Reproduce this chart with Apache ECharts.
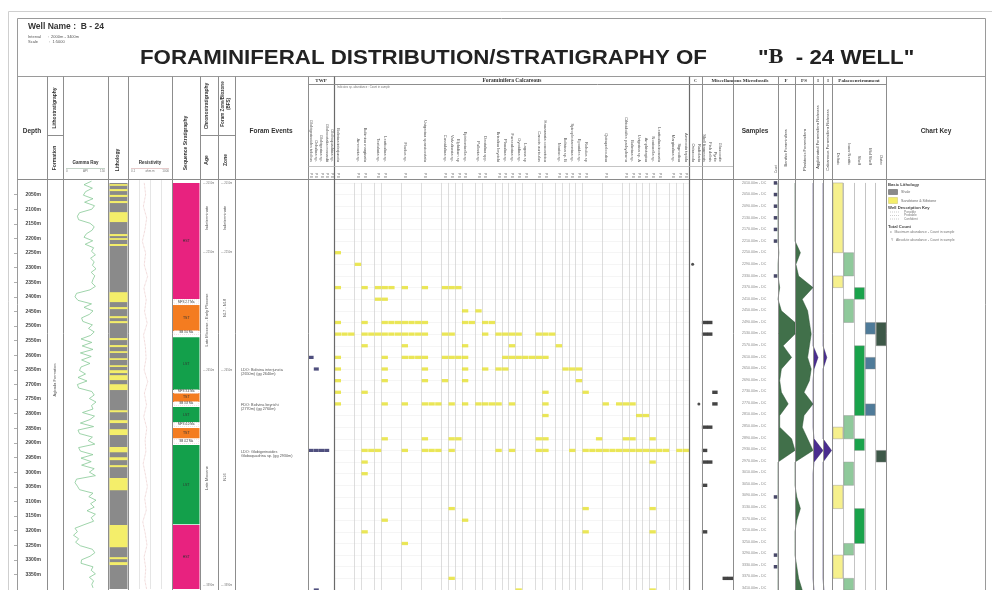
<!DOCTYPE html>
<html>
<head>
<meta charset="utf-8">
<title>Foraminiferal Distribution / Stratigraphy of B-24 Well</title>
<script src="https://cdn.jsdelivr.net/npm/echarts@6/dist/echarts.min.js"></script>
<style>
html,body{margin:0;padding:0;background:#fff;}
#chart{width:992px;height:590px;}
</style>
</head>
<body>
<div id="chart"></div>
<script>
// ================= DATA =================
const depthRange = [2000, 3400];
const depthTickStep = 50;

// Gamma ray (API)
const grDepth = [2004,2016,2028,2040,2052,2064,2076,2088,2100,2112,2124,2136,2148,2160,2172,2184,2196,2208,2220,2232,
  2244,2256,2268,2280,2292,2304,2316,2328,2340,2352,2364,2376,2388,2400,2412,2424,2436,2448,2460,2472,
  2484,2496,2508,2520,2532,2544,2556,2568,2580,2592,2604,2616,2628,2640,2652,2664,2676,2688,2700,2712,
  2724,2736,2748,2760,2772,2784,2796,2808,2820,2832,2844,2856,2868,2880,2892,2904,2916,2928,2940,2952,
  2964,2976,2988,3000,3012,3024,3036,3048,3060,3072,3084,3096,3108,3120,3132,3144,3156,3168,3180,3192,
  3204,3216,3228,3240,3252,3264,3276,3288,3300,3312,3324,3336,3348,3360,3372,3384,3396];
const grValue = [95,70,98,75,68,100,72,105,96,55,
  48,52,90,104,97,78,70,99,74,102,
  95,108,92,104,98,110,94,106,100,96,
  108,90,45,40,50,95,70,100,88,62,
  66,98,85,104,92,60,96,64,100,58,
  94,62,90,60,55,75,50,80,48,52,
  96,104,88,110,95,100,65,105,90,58,
  102,50,55,98,84,106,52,58,100,60,
  94,62,104,88,108,45,40,48,55,100,
  86,110,92,104,80,108,94,102,70,40,
  48,35,52,42,58,98,106,90,62,60,
  100,94,108,88,102,96,100];

// Resistivity (ohm.m)
const resDepth = [2010,2050,2090,2130,2170,2210,2250,2290,2330,2370,2410,2450,2490,2530,2570,2610,2650,2690,
  2730,2770,2810,2850,2890,2930,2970,3010,3050,3090,3130,3170,3210,3250,3290,3330,3370,3400];
const resValue = [3,4,2.5,5,3.5,2,4,3,6,2.8,4.5,3.2,5.5,2.6,3.8,4.4,2.9,6.2,3.1,4.8,2.7,5.1,3.6,4.2,2.4,3.9,5.8,3.3,4.6,2.2,3.7,5.3,2.9,4.1,3.4,4.9];

// Lithology intervals (m)
const lithTop    = [2010,2014,2031,2051,2072,2110,2185,2199,2219,2384,2435,2466,2483,2541,2565,2586,2610,2634,2651,2668,2699,2788,2822,2853,2914,2949,2976,3020,3181,3291,3308];
const lithBottom = [3400,2020,2038,2058,2079,2144,2192,2205,2226,2418,2442,2473,2490,2548,2572,2592,2616,2640,2661,2685,2719,2795,2832,2873,2932,2959,2983,3062,3257,3298,3318];
const lithType   = ['Shale','Sandstone','Sandstone','Sandstone','Sandstone','Sandstone','Sandstone','Sandstone','Sandstone','Sandstone','Sandstone','Sandstone','Sandstone','Sandstone','Sandstone','Sandstone','Sandstone','Sandstone','Sandstone','Sandstone','Sandstone','Sandstone','Sandstone','Sandstone','Sandstone','Sandstone','Sandstone','Sandstone','Sandstone','Sandstone','Sandstone'];

// Sequence stratigraphy
const seqTop    = [2010,2428,2538,2729,2777,2849,2907,3181];
const seqBottom = [2407,2517,2719,2760,2829,2884,3178,3400];
const seqType   = ['HST','TST','LST','TST','LST','TST','LST','HST'];
const seqMarkDepth = [2417,2522,2724,2765,2837,2895];
const seqMarkText  = ['MFS 2.7 Ma','SB 3.0 Ma','MFS 3.4 Ma','SB 3.8 Ma','MFS 4.0 Ma','SB 4.2 Ma'];

// Samples
const sampleDepths = [2010,2050,2090,2130,2170,2210,2250,2290,2330,2370,2410,2450,2490,2530,2570,2610,2650,2690,
  2730,2770,2810,2850,2890,2930,2970,3010,3050,3090,3130,3170,3210,3250,3290,3330,3370,3410];
const markerRows = [0,1,2,3,4,5,8,27,32,33];

// TWP (planktonic) species
const twpNames = ['Globigerinoides trilobus','Orbulina sp.','Globigerina sp.','Globorotalia menardii','Globoquadrina sp.'];
const twpHits = [[15,[0]],[16,[1]],[23,[0,1,2,3]],[35,[1]]];

// Calcareous foraminifera species (53 columns, some unlabeled)
const speciesNames = ['Bolivina interjuncta','','','Ammonia sp.','Bulimina marginata','','Textularia sp.','Lenticulina sp.','','',
  'Florilus sp.','','','Uvigerina sparsicostata','','','Cassidulina sp.','Valvulineria sp.','Elphidium sp','Epistominella sp.',
  '','Pullenia sp.','Dentalina spp.','','Brizalina beyrichi','Planulina sp.','Fursenkoina sp.','Gyroidina sp.','Lagena sp','',
  'Cancris auriculus','Hanzawaia concentrica','','Nonion sp.','Bolivina sp. B','Spiroplectammina sp.','Eponides sp.','Robulus sp','','',
  'Quinqueloculina','','','Cibicidoides pachyderma','Bulimina sp.','Uvigerina sp. A','Amphistegina','Nonionella sp.','Lenticulina inornata','',
  'Marginulina sp.','Sigmoilina','Ammonia tepida'];
const foramHits = [
  [6,[0]],[7,[3]],
  [9,[0,4,6,7,8,10,13,16,17,18]],
  [10,[6,7]],
  [11,[19,21]],
  [12,[0,4,7,8,9,10,11,12,13,19,20,22,23]],
  [13,[0,1,2,4,5,6,7,8,9,10,11,12,13,16,17,22,24,25,26,27,30,31,32]],
  [14,[4,10,19,26,33]],
  [15,[0,7,10,11,12,13,16,17,18,19,25,26,27,28,29,30,31]],
  [16,[0,7,13,19,22,24,25,34,35,36]],
  [17,[0,7,13,16,19,36]],
  [18,[0,4,31,37]],
  [19,[0,7,10,13,14,15,17,19,21,22,23,24,26,31,40,42,43,44]],
  [20,[31,45,46]],
  [22,[7,13,17,18,30,31,39,43,44,47]],
  [23,[4,5,6,10,13,14,15,17,24,26,30,31,35,37,38,39,40,41,42,43,44,45,46,47,48,49,51,52]],
  [24,[4,47]],[25,[4]],[28,[17,37,47]],[29,[7,19]],[30,[4,37,47]],[31,[10]],[34,[17]],[35,[27,47]]
];

// Other microfossils
const ostraNames = ['Ostracoda','Radiolaria'];
const ostraHits = [[7,[0]],[19,[1]]];
const miscNames = ['Shell fragments','Fish debris','Pyrite','Glauconite','',''];
const miscHits = [[12,[0,1]],[13,[0,1]],[18,[2]],[19,[2]],[21,[0,1]],[23,[0]],[24,[0,1]],[26,[0]],[30,[0]],[34,[4,5]]];

// Counts / richness per sample
const benthicCount    = [0,0,0,0,0,0,0.5,0,0,1,0,2,10,10,3,8,2,1,2,6,1,1,8,10,0,0,0,0,0,0,0,0,0,0,0,0];
const planktonicCount = [0,0,0,0,0,0,3,0.5,2,10,4,7,8,9,8,7,9,8,5,10,5,4,7,10,0,0,0,1,3,1,0,0,0,1,2,4];
const agglRichness    = [0,0,0,0,0,0,0,0,0,0,0,0,0,0,0,5,1,0,0,0,0,0,1,10,1,0,0,0,0,0,0,0,0,0,0,1];
const calcRichness    = [0,0,0,0,0,0,0,0,0,0,0,0,0,0,0,4,0,0,0,0,0,0,0,9,0,0,0,0,0,0,0,0,0,0,0,1];

// Palaeoenvironment
const palNames = ['Deltaic','Inner Neritic','Shelf','Mid Shelf','Outer'];
const palCol   = [0,0,0,0,0, 1,1,1,1,1,1, 2,2,2,2, 3,3,3, 4,4];
const palStart = [0,8,21,26,32, 6,10,20,24,31,34, 9,14,22,28, 12,15,19, 12,23];
const palEnd   = [6,9,22,28,34, 8,12,22,26,32,35, 10,20,23,31, 13,16,20, 14,24];

// ================= LAYOUT =================
const FONT = 'Arial, "Liberation Sans", sans-serif';
const SERIF = '"Liberation Serif", "Times New Roman", serif';
const LINE = '#8d8d8d';
const TOP = 180, H = 409;
const span = depthRange[1] - depthRange[0];
const S_TOP = TOP + (sampleDepths[0] - depthRange[0]) / span * H;
const S_H = (sampleDepths[sampleDepths.length - 1] - sampleDepths[0]) / span * H;

const C = {
  depth:[17,47], gr:[63,108], lith:[109.5,127.5], res:[128,172], seq:[173,199.5],
  twp:[308.5,334.5], foram:[334.5,689.5], ostra:[689.5,702], misc:[702,733], samples:[733,778], marker:[773,778],
  f1:[778,795], f2:[795,813], p1:[813,823], p2:[823,832.5], pal:[832.5,886.5]
};

const grid = [], xAxis = [], yAxis = [], series = [];
function hidden() { return {axisLine:{show:false}, axisTick:{show:false}, axisLabel:{show:false}, splitLine:{show:false}}; }
function addGrid(col, sampleBased, xCfg, yCfg) {
  const gi = grid.length;
  grid.push({left: col[0], width: col[1] - col[0], top: sampleBased ? S_TOP : TOP, height: sampleBased ? S_H : H});
  const xi = xAxis.length;
  const xBase = (xCfg && xCfg.type === 'category') ? {} : {type:'value', min:0, max:1};
  xAxis.push(Object.assign({gridIndex: gi}, xBase, hidden(), xCfg || {}));
  const yi = yAxis.length;
  const yBase = sampleBased
    ? {type:'category', data: sampleDepths.map(String), boundaryGap:false, inverse:true}
    : {type:'value', min: depthRange[0], max: depthRange[1], inverse:true};
  yAxis.push(Object.assign({gridIndex: gi}, hidden(), yBase, yCfg || {}));
  return {gi, xi, yi};
}
function flatten(hits) { const out = []; hits.forEach(h => h[1].forEach(s => out.push([s, h[0]]))); return out; }
function catAxis(names, margin, fs, extra) {
  return Object.assign({type:'category', data: names.map((_, i) => String(i)), boundaryGap: true, position: 'top',
    axisLine:{show:false}, axisTick:{show:false}, splitLine:{show:false},
    axisLabel: {show: true, interval: 0, rotate: 90, margin: margin, fontSize: fs || 4, color: '#555', fontFamily: FONT,
      formatter: v => names[+v] || ''}}, extra || {});
}

// Depth track
addGrid(C.depth, false, null, {position:'right', interval: depthTickStep,
  axisTick:{show:true, inside:true, length:3, lineStyle:{color:'#777', width:0.6}},
  axisLabel:{show:true, inside:true, margin:6, fontSize:5, color:'#444', fontWeight:'bold', fontFamily: FONT,
    formatter: v => v + 'm', showMinLabel:false, showMaxLabel:false}});

// Gamma ray
const gGR = addGrid(C.gr, false, {min:0, max:150});
series.push({type:'line', xAxisIndex:gGR.xi, yAxisIndex:gGR.yi, symbol:'none', silent:true,
  lineStyle:{color:'#86c995', width:0.8}, data: grDepth.map((d, i) => [grValue[i], d])});

// Lithology
const lithColors = {Shale:'#8a8a8a', Sandstone:'#f4ee6a'};
const gL = addGrid(C.lith, false);
series.push({type:'custom', xAxisIndex:gL.xi, yAxisIndex:gL.yi, silent:true,
  data: lithTop.map((t, i) => [t, lithBottom[i], i]), encode:{y:[0,1]},
  renderItem: (p, api) => {
    const a = api.coord([0, api.value(0)]), b = api.coord([1, api.value(1)]);
    return {type:'rect', shape:{x:a[0], y:a[1], width:b[0]-a[0], height:b[1]-a[1]},
      style:{fill: lithColors[lithType[api.value(2)]]}};
  }});

// Resistivity
const gR = addGrid(C.res, false, {type:'log', min:0.1, max:1000, logBase:10,
  splitLine:{show:true, lineStyle:{color:'#dedede', width:0.8}}});
series.push({type:'line', xAxisIndex:gR.xi, yAxisIndex:gR.yi, symbol:'none', silent:true,
  lineStyle:{color:'#e2b4b4', width:0.7, type:'dotted'}, data: resDepth.map((d, i) => [resValue[i], d])});

// Sequence stratigraphy
const seqColors = {HST:'#e8227f', TST:'#f47c20', LST:'#13a04b'};
const gS = addGrid(C.seq, false);
series.push({type:'custom', xAxisIndex:gS.xi, yAxisIndex:gS.yi, silent:true,
  data: seqTop.map((t, i) => [t, seqBottom[i], i]), encode:{y:[0,1]},
  renderItem: (p, api) => {
    const a = api.coord([0, api.value(0)]), b = api.coord([1, api.value(1)]);
    const tp = seqType[api.value(2)];
    return {type:'group', children:[
      {type:'rect', shape:{x:a[0], y:a[1], width:b[0]-a[0], height:b[1]-a[1]}, style:{fill: seqColors[tp]}},
      {type:'text', x:(a[0]+b[0])/2, y:Math.min((a[1]+b[1])/2, 560), style:{text: tp, font:'3.5px ' + FONT, fill:'#333', align:'center', verticalAlign:'middle'}}
    ]};
  }});
series.push({type:'custom', xAxisIndex:gS.xi, yAxisIndex:gS.yi, silent:true,
  data: seqMarkDepth.map((d, i) => [d, i]), encode:{y:0},
  renderItem: (p, api) => {
    const a = api.coord([0, api.value(0)]), b = api.coord([1, api.value(0)]);
    return {type:'group', children:[
      {type:'rect', shape:{x:a[0]+1, y:a[1]-2, width:b[0]-a[0]-2, height:4}, style:{fill:'#fff', stroke:'#d99', lineWidth:0.3, lineDash:[1,1]}},
      {type:'text', x:(a[0]+b[0])/2, y:a[1], style:{text: seqMarkText[api.value(1)], font:'3px ' + FONT, fill:'#333', align:'center', verticalAlign:'middle'}}
    ]};
  }});

// TWP
const gT = addGrid(C.twp, true, catAxis(twpNames, 21, 4));
xAxis.push(catAxis(twpNames, 5, 3, {gridIndex: gT.gi, axisLabel:{show:true, interval:0, rotate:90, margin:5, fontSize:3, color:'#666', formatter: v => 'P B'}}));
series.push({type:'scatter', xAxisIndex:gT.xi, yAxisIndex:gT.yi, silent:true, symbol:'rect', symbolSize:[5,3.2],
  itemStyle:{color:'#23235e'}, data: flatten(twpHits)});

// Calcareous foraminifera
const gF = addGrid(C.foram, true,
  catAxis(speciesNames, 21, 4, {splitLine:{show:true, interval: (i) => speciesNames[i] !== '', lineStyle:{color:'#cfcfcf', width:0.7}}}),
  {splitLine:{show:true, interval:0, lineStyle:{color:'#efefef', width:0.6}}});
xAxis.push(catAxis(speciesNames, 5, 3, {gridIndex: gF.gi, axisLabel:{show:true, interval:0, rotate:90, margin:5, fontSize:3, color:'#666',
  formatter: v => speciesNames[+v] ? 'P B' : ''}}));
series.push({type:'scatter', xAxisIndex:gF.xi, yAxisIndex:gF.yi, silent:true, symbol:'rect', symbolSize:[6.3,3.3],
  itemStyle:{color:'#e6e12e'}, data: flatten(foramHits)});

// Ostracoda / Radiolaria
const gO = addGrid(C.ostra, true, catAxis(ostraNames, 21, 4));
series.push({type:'scatter', xAxisIndex:gO.xi, yAxisIndex:gO.yi, silent:true, symbol:'circle', symbolSize:3,
  itemStyle:{color:'#222'}, data: flatten(ostraHits)});

// Miscellaneous microfossils
const gM = addGrid(C.misc, true, catAxis(miscNames, 21, 4));
series.push({type:'scatter', xAxisIndex:gM.xi, yAxisIndex:gM.yi, silent:true, symbol:'rect', symbolSize:[5.4,3.4],
  itemStyle:{color:'#151515'}, data: flatten(miscHits)});

// Samples (labels via category axis)
addGrid(C.samples, true, null, {axisLabel:{show:true, inside:true, interval:0, margin:9, fontSize:3.6, color:'#8a8a8a', fontFamily: FONT,
  formatter: v => v + '.00m - DC'}});
const gK = addGrid(C.marker, true, {type:'category', data:['0'], boundaryGap:true});
series.push({type:'scatter', xAxisIndex:gK.xi, yAxisIndex:gK.yi, silent:true, symbol:'rect', symbolSize:[3.5,3.5],
  itemStyle:{color:'#1c1c44'}, data: markerRows.map(r => [0, r])});

// Count / richness curves
function areaTrack(col, values, color, border) {
  const g = addGrid(col, true, {min:0, max:10});
  series.push({type:'line', xAxisIndex:g.xi, yAxisIndex:g.yi, silent:true, symbol:'none', data: values,
    lineStyle:{color: border, width:0.5}, areaStyle:{color: color, opacity:1}});
}
areaTrack(C.f1, benthicCount, '#41704a', '#2c5535');
areaTrack(C.f2, planktonicCount, '#41704a', '#2c5535');
areaTrack(C.p1, agglRichness, '#4a2d8f', '#2d1c66');
areaTrack(C.p2, calcRichness, '#4a2d8f', '#2d1c66');

// Palaeoenvironment
const palColors = ['#f6f08c', '#8fc99b', '#19a34b', '#4f7b99', '#3d5848'];
const gP = addGrid(C.pal, true, catAxis(palNames, 18, 4, {splitLine:{show:true, interval:0, lineStyle:{color:'#aaa', width:0.7}}}));
series.push({type:'custom', xAxisIndex:gP.xi, yAxisIndex:gP.yi, silent:true,
  data: palCol.map((c, i) => [c, palStart[i], palEnd[i]]), encode:{x:0, y:1},
  renderItem: (p, api) => {
    const c = api.value(0);
    const a = api.coord([c, api.value(1)]), b = api.coord([c, api.value(2)]);
    const w = api.size([1, 0])[0];
    return {type:'rect', shape:{x:a[0]-w/2+0.5, y:a[1], width:w-1, height:b[1]-a[1]},
      style:{fill: palColors[c], stroke:'#8a8a8a', lineWidth:0.4}};
  }});

// ================= GRAPHIC (frame, headers, annotations) =================
const G = [];
function ln(x1, y1, x2, y2, color, w) { G.push({type:'line', silent:true, z:100, shape:{x1, y1, x2, y2}, style:{stroke: color || LINE, lineWidth: w || 1}}); }
function tx(x, y, t, size, o) {
  o = o || {};
  G.push({type:'text', silent:true, z:101, x, y, rotation: o.rot || 0, scaleX: o.sx || 1,
    style:{text:t, font:(o.bold ? 'bold ' : '') + size + 'px ' + (o.family || FONT), fill:o.color || '#444',
      align:o.align || 'left', verticalAlign:o.va || 'middle', lineHeight: o.lh}});
}
function vt(x, y, t, size, o) { o = Object.assign({align:'center'}, o || {}); o.rot = Math.PI / 2; tx(x, y, t, size, o); }
function rc(x, y, w, h, fill, stroke) { G.push({type:'rect', silent:true, z:100, shape:{x, y, width:w, height:h}, style:{fill, stroke: stroke || null, lineWidth:0.5}}); }

// frames
G.push({type:'rect', silent:true, z:99, shape:{x:8.5, y:11.5, width:990, height:600}, style:{fill:null, stroke:'#cfcfcf', lineWidth:1}});
ln(17.5, 18.5, 985.5, 18.5, '#9a9a9a');
ln(17.5, 18.5, 17.5, 590, '#9a9a9a');
ln(985.5, 18.5, 985.5, 590, '#9a9a9a');
ln(17.5, 76.5, 985.5, 76.5, '#9a9a9a');
ln(17.5, 179.5, 985.5, 179.5, '#8a8a8a');
[47, 63, 108, 128, 172, 200, 218, 235, 308.5, 702, 733, 778, 795, 813, 823, 832.5, 886.5].forEach(x => ln(Math.floor(x) + 0.5, 76.5, Math.floor(x) + 0.5, 590));
ln(334.5, 76.5, 334.5, 590, '#6a6a6a', 1.2);
ln(689.5, 76.5, 689.5, 590, '#6a6a6a', 1.2);
ln(47.5, 135.5, 63.5, 135.5);
ln(200.5, 135.5, 235.5, 135.5);
ln(308.5, 84.5, 886.5, 84.5);
ln(308.5, 166.5, 733, 166.5, '#b5b5b5', 0.8);

// title block
tx(28, 27, 'Well Name :  B - 24', 8.5, {bold:true, color:'#333'});
tx(28, 37, 'Interval      :  2000m - 3400m', 4, {color:'#555'});
tx(28, 42, 'Scale          :  1:5000', 4, {color:'#555'});
tx(140, 58, 'FORAMINIFERAL DISTRIBUTION/STRATIGRAPHY OF', 20, {bold:true, color:'#222', sx:1.115});
G.push({type:'text', silent:true, z:101, x:758, y:58, scaleX:1.115, style:{text:'{a|"}{b|B}{a|  - 24 WELL}{a|"}', verticalAlign:'middle',
  rich:{a:{font:'bold 20px ' + FONT, fill:'#222'}, b:{font:'bold 20px ' + SERIF, fill:'#222'}}}});

// column headers
tx(32, 131, 'Depth', 6.5, {bold:true, align:'center', color:'#333'});
vt(55, 108, 'Lithostratigraphy', 5, {bold:true, color:'#333'});
vt(55, 158, 'Formation', 5, {bold:true, color:'#333'});
tx(85.5, 163, 'Gamma Ray', 4.5, {bold:true, align:'center', color:'#333'});
ln(66, 168.5, 105, 168.5, '#9ab59f', 0.6);
tx(66, 171.5, '0', 3, {color:'#777'}); tx(85.5, 171.5, 'API', 3, {align:'center', color:'#777'}); tx(105, 171.5, '150', 3, {align:'right', color:'#777'});
vt(118, 160, 'Lithology', 5, {bold:true, color:'#333'});
tx(150, 163, 'Resistivity', 4.5, {bold:true, align:'center', color:'#333'});
ln(131, 168.5, 169, 168.5, '#d6a8a8', 0.6);
tx(131, 171.5, '0.1', 3, {color:'#777'}); tx(150, 171.5, 'ohm.m', 3, {align:'center', color:'#777'}); tx(169, 171.5, '1000', 3, {align:'right', color:'#777'});
vt(186, 143, 'Sequence Stratigraphy', 5, {bold:true, color:'#333'});
vt(207, 106, 'Chronostratigraphy', 5, {bold:true, color:'#333'});
vt(226, 104, 'Foram Zone/Biozone\n(BFS)', 4.6, {bold:true, color:'#333', lh:6});
vt(207, 160, 'Age', 5, {bold:true, color:'#333'});
vt(226, 160, 'Zone', 5, {bold:true, color:'#333'});
tx(271, 131, 'Foram Events', 6.5, {bold:true, align:'center', color:'#333'});
tx(755, 131, 'Samples', 6.5, {bold:true, align:'center', color:'#333'});
tx(936, 131, 'Chart Key', 6.5, {bold:true, align:'center', color:'#333'});

// group headers
tx(321, 80.5, 'TWP', 5, {bold:true, align:'center', family:SERIF, color:'#333'});
tx(512, 80.5, 'Foraminifera Calcareous', 5.5, {bold:true, align:'center', family:SERIF, color:'#333'});
tx(337, 87.5, 'Indicates sp. abundance : Count in sample', 2.8, {color:'#777'});
tx(695.5, 80.5, 'C', 4, {bold:true, align:'center', family:SERIF, color:'#333'});
tx(740, 80.5, 'Miscellaneous Microfossils', 5, {bold:true, align:'center', family:SERIF, color:'#333'});
tx(786, 80.5, 'F', 5, {bold:true, align:'center', family:SERIF, color:'#333'});
tx(804, 80.5, 'FS', 5, {bold:true, align:'center', family:SERIF, color:'#333'});
tx(818, 80.5, 'I', 4, {bold:true, align:'center', family:SERIF, color:'#333'});
tx(828, 80.5, 'I', 4, {bold:true, align:'center', family:SERIF, color:'#333'});
tx(859, 80.5, 'Palaeoenvironment', 5, {bold:true, align:'center', family:SERIF, color:'#333'});
vt(776, 169, 'Count', 3, {color:'#555'});
vt(786, 148, 'Benthic Foraminifera', 4, {color:'#444'});
vt(805, 150, 'Planktonic Foraminifera', 4, {color:'#444'});
vt(818, 137, 'Agglutinated Foraminifera Richness', 4, {color:'#444'});
vt(828, 140, 'Calcareous Foraminifera Richness', 4, {color:'#444'});

// Formation / age / zone
vt(55, 380, 'Agbada Formation', 4, {color:'#555'});
vt(207, 218, 'Indeterminate', 4, {color:'#555'});
vt(207, 320, 'Late Miocene - Early Pliocene', 4, {color:'#555'});
vt(207, 478, 'Late Miocene', 4, {color:'#555'});
vt(225, 218, 'Indeterminate', 4, {color:'#555'});
vt(225, 308, 'N17 - N18', 4, {color:'#555'});
vt(225, 477, 'N16', 4, {color:'#555'});
[[183, '2010m'], [252, '2250m'], [370, '2650m'], [585, '3390m']].forEach(m => {
  tx(203, m[0], '— ' + m[1], 2.6, {color:'#777'});
  tx(221, m[0], '— ' + m[1], 2.6, {color:'#777'});
});

// Foram events
tx(241, 369.5, 'LDO: Bolivina interjuncta', 3.8, {color:'#555'});
tx(241, 373.5, '(2650m) (gg 2640m)', 3.8, {color:'#555'});
tx(241, 404.5, 'FDO: Bolivina beyrichi', 3.8, {color:'#555'});
tx(241, 408.5, '(2770m) (gg 2760m)', 3.8, {color:'#555'});
tx(241, 452, 'LDO: Globigerinoides', 3.8, {color:'#555'});
tx(241, 456, 'Globoquadrina sp. (gg 2930m)', 3.8, {color:'#555'});

// Chart key
tx(888, 185, 'Basic Lithology', 4.2, {bold:true, color:'#444'});
rc(888.5, 189.5, 9, 5, '#8a8a8a', '#555');
tx(901, 192, 'Shale', 3.6, {color:'#666'});
rc(888.5, 197.5, 9, 6, '#f4ee6a', '#c9c26a');
tx(901, 200.5, 'Sandstone & Siltstone', 3.6, {color:'#666'});
tx(888, 208, 'Well Description Key', 4.2, {bold:true, color:'#444'});
[[212, 'Possible'], [215.5, 'Probable'], [219, 'Confident']].forEach(r => {
  G.push({type:'line', silent:true, z:100, shape:{x1:890, y1:r[0], x2:899, y2:r[0]}, style:{stroke:'#999', lineWidth:0.5, lineDash:[1,1]}});
  tx(904, r[0], r[1], 3.2, {color:'#777'});
});
tx(888, 226.5, 'Total Count', 4.2, {bold:true, color:'#444'});
tx(890, 232, 'x   Maximum abundance - Count in sample', 3.4, {color:'#777'});
tx(891, 240, 'Y   Absolute abundance - Count in sample', 3.4, {color:'#777'});

// ================= RENDER =================
const chart = echarts.init(document.getElementById('chart'), null, {renderer:'canvas'});
chart.setOption({
  animation: false,
  backgroundColor: '#ffffff',
  grid, xAxis, yAxis, series,
  graphic: {elements: G}
});
</script>
</body>
</html>
